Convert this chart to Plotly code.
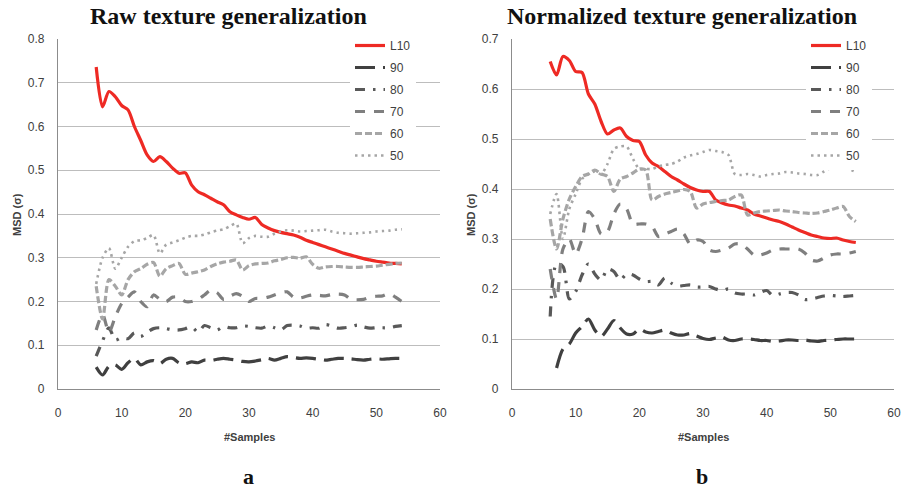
import plotly.graph_objects as go

SAMPLES = [6, 7, 8, 9, 10, 11, 12, 13, 14, 15, 16, 17, 18, 19, 20, 21, 22, 23, 24, 25,
           26, 27, 28, 29, 30, 31, 32, 33, 34, 35, 36, 37, 38, 39, 40, 41, 42, 43, 44, 45,
           46, 47, 48, 49, 50, 51, 52, 53, 54]

SERIES_NAMES = ["L10", "90", "80", "70", "60", "50"]

RAW_L10 = [0.736, 0.645, 0.68, 0.668, 0.648, 0.638, 0.60, 0.568, 0.535, 0.52, 0.531, 0.52, 0.505, 0.493, 0.494,
           0.466, 0.451, 0.444, 0.436, 0.428, 0.421, 0.405, 0.398, 0.392, 0.388, 0.392, 0.376, 0.368, 0.362, 0.358,
           0.355, 0.352, 0.347, 0.34, 0.335, 0.33, 0.325, 0.32, 0.315, 0.31, 0.306, 0.302, 0.298, 0.295, 0.292,
           0.29, 0.288, 0.287, 0.286]
RAW_90 = [0.05, 0.032, 0.052, 0.055, 0.045, 0.06, 0.07, 0.055, 0.062, 0.065,
          0.058, 0.068, 0.07, 0.06, 0.058, 0.062, 0.06, 0.066, 0.065, 0.068,
          0.07, 0.068, 0.066, 0.063, 0.062, 0.064, 0.067, 0.07, 0.066, 0.07,
          0.074, 0.072, 0.07, 0.071, 0.07, 0.068, 0.066, 0.068, 0.07, 0.07,
          0.069, 0.067, 0.066, 0.068, 0.069, 0.068, 0.069, 0.07, 0.07]
RAW_80 = [0.075, 0.11, 0.14, 0.112, 0.118, 0.115, 0.128, 0.12, 0.13, 0.138,
          0.14, 0.138, 0.135, 0.135, 0.138, 0.142, 0.13, 0.145, 0.14, 0.135,
          0.143, 0.14, 0.14, 0.144, 0.143, 0.14, 0.139, 0.144, 0.14, 0.135,
          0.145, 0.146, 0.144, 0.139, 0.14, 0.139, 0.147, 0.144, 0.139, 0.14,
          0.142, 0.146, 0.142, 0.139, 0.14, 0.14, 0.14, 0.143, 0.145]
RAW_70 = [0.135, 0.17, 0.13, 0.165, 0.195, 0.21, 0.222, 0.2, 0.188, 0.215,
          0.205, 0.2, 0.21, 0.21, 0.2, 0.2, 0.205, 0.215, 0.226, 0.22,
          0.205, 0.212, 0.218, 0.212, 0.2, 0.207, 0.207, 0.21, 0.215, 0.22,
          0.222, 0.21, 0.208, 0.212, 0.215, 0.214, 0.213, 0.216, 0.217, 0.215,
          0.205, 0.204, 0.205, 0.21, 0.212, 0.213, 0.218, 0.21, 0.2]
RAW_60 = [0.235, 0.16, 0.25, 0.235, 0.215, 0.25, 0.268, 0.275, 0.285, 0.289,
          0.258, 0.275, 0.282, 0.287, 0.262, 0.265, 0.268, 0.272, 0.28, 0.286,
          0.29, 0.292, 0.295, 0.272, 0.282, 0.286, 0.287, 0.288, 0.293, 0.296,
          0.3, 0.301, 0.299, 0.302, 0.285, 0.276, 0.279, 0.28, 0.28, 0.279,
          0.278, 0.278, 0.279, 0.28, 0.281, 0.283, 0.285, 0.287, 0.288]
RAW_50 = [0.24, 0.3, 0.322, 0.275, 0.3, 0.325, 0.338, 0.34, 0.345, 0.352,
          0.31, 0.33, 0.335, 0.34, 0.346, 0.35, 0.35, 0.353, 0.358, 0.362,
          0.365, 0.372, 0.378, 0.333, 0.345, 0.35, 0.348, 0.348, 0.355, 0.36,
          0.363, 0.362, 0.36, 0.361, 0.362, 0.363, 0.364, 0.36, 0.357, 0.356,
          0.355, 0.356, 0.357, 0.358, 0.36, 0.361, 0.362, 0.364, 0.365]

NORM_L10 = [0.655, 0.628, 0.665, 0.657, 0.635, 0.633, 0.59, 0.57, 0.535, 0.51,
            0.518, 0.522, 0.505, 0.497, 0.495, 0.468, 0.452, 0.445, 0.435, 0.425,
            0.418, 0.41, 0.403, 0.398, 0.395, 0.395, 0.378, 0.372, 0.368, 0.366,
            0.362, 0.358, 0.35, 0.346, 0.342, 0.338, 0.335, 0.33, 0.324, 0.318,
            0.313, 0.308, 0.305, 0.302, 0.301, 0.302, 0.298, 0.295, 0.293]
NORM_90 = [None, 0.042, 0.08, 0.09, 0.112, 0.125, 0.14, 0.118, 0.105, 0.12,
           0.137, 0.122, 0.11, 0.11, 0.12, 0.114, 0.112, 0.115, 0.118, 0.112,
           0.108, 0.108, 0.111, 0.106, 0.101, 0.099, 0.102, 0.104, 0.098, 0.097,
           0.1, 0.1, 0.099, 0.097, 0.097, 0.095, 0.096, 0.098, 0.098, 0.097,
           0.098, 0.096, 0.095, 0.097, 0.098, 0.099, 0.1, 0.1, 0.1]
NORM_80 = [0.145, 0.25, 0.245, 0.18, 0.195, 0.228, 0.25, 0.23, 0.218, 0.24,
           0.235, 0.218, 0.23, 0.228, 0.22, 0.215, 0.215, 0.208, 0.222, 0.212,
           0.206, 0.207, 0.208, 0.204, 0.204, 0.205, 0.2, 0.197, 0.2, 0.192,
           0.19, 0.19, 0.188, 0.193, 0.197, 0.187, 0.19, 0.193, 0.193, 0.188,
           0.179, 0.18, 0.183, 0.186, 0.187, 0.186, 0.185, 0.186, 0.187]
NORM_70 = [0.24, 0.18, 0.28, 0.3, 0.27, 0.3, 0.355, 0.34, 0.31, 0.315,
           0.35, 0.37, 0.36, 0.33, 0.33, 0.33, 0.325, 0.305, 0.31, 0.315,
           0.32, 0.31, 0.29, 0.298, 0.295, 0.278, 0.275, 0.278, 0.282, 0.29,
           0.29, 0.28, 0.268, 0.268, 0.272, 0.278, 0.28, 0.28, 0.28, 0.28,
           0.272, 0.258, 0.256, 0.262, 0.268, 0.27, 0.27, 0.272, 0.275]
NORM_60 = [0.34, 0.28, 0.34, 0.38, 0.405, 0.425, 0.43, 0.438, 0.43, 0.425,
           0.395, 0.42, 0.425, 0.432, 0.44, 0.438, 0.378, 0.385, 0.39, 0.393,
           0.396, 0.399, 0.395, 0.362, 0.37, 0.373, 0.375, 0.377, 0.378, 0.385,
           0.388, 0.348, 0.352, 0.355, 0.356, 0.357, 0.358, 0.356, 0.355, 0.353,
           0.352, 0.351, 0.352, 0.355, 0.358, 0.362, 0.365, 0.345, 0.335]
NORM_50 = [0.35, 0.39, 0.3, 0.36, 0.39, 0.42, 0.43, 0.435, 0.43, 0.45,
           0.48, 0.485, 0.485, 0.46, 0.44, 0.44, 0.44, 0.445, 0.448, 0.45,
           0.455, 0.463, 0.467, 0.47, 0.474, 0.478, 0.476, 0.474, 0.468, 0.43,
           0.428, 0.43, 0.428, 0.425, 0.428, 0.43, 0.431, 0.434, 0.433, 0.431,
           0.43, 0.428, 0.428, 0.435, 0.442, 0.447, 0.448, 0.44, 0.434]

PANEL_TITLES = ["Raw texture generalization", "Normalized texture generalization"]
PANEL_LETTERS = ["a", "b"]
X_TITLE = "#Samples"
Y_TITLE = "MSD (σ)"

STYLES = {
    "L10": dict(color="#EE2A24", width=3.2, dash="solid"),
    "90": dict(color="#404040", width=3.2, dash="20px,8px"),
    "80": dict(color="#595959", width=3.2, dash="10px,8px,2.5px,8px"),
    "70": dict(color="#7F7F7F", width=3.2, dash="10px,9px"),
    "60": dict(color="#A6A6A6", width=3.2, dash="7px,3px"),
    "50": dict(color="#A6A6A6", width=2.6, dash="2.5px,4px"),
}

W, H = 906, 490
fig = go.Figure()

panels = [
    (dict(zip(SERIES_NAMES, [RAW_L10, RAW_90, RAW_80, RAW_70, RAW_60, RAW_50])), "x", "y", "legend"),
    (dict(zip(SERIES_NAMES, [NORM_L10, NORM_90, NORM_80, NORM_70, NORM_60, NORM_50])), "x2", "y2", "legend2"),
]
for pi, (data, xa, ya, lg) in enumerate(panels):
    for name in SERIES_NAMES:
        st = STYLES[name]
        fig.add_trace(go.Scatter(
            x=SAMPLES, y=data[name], name=name, mode="lines",
            line=dict(color=st["color"], width=st["width"], dash=st["dash"],
                      shape="spline", smoothing=0.8),
            xaxis=xa, yaxis=ya, legend=lg, legendgroup=f"{lg}_{name}",
            connectgaps=False, hoverinfo="skip"))

def px_x(p):
    return p / W

def px_y(p):
    return 1 - p / H

tick_font = dict(family="Liberation Sans", size=12, color="#404040")
grid = "#BDBDBD"
axis_line = "#8C8C8C"

xcommon = dict(range=[0, 60], dtick=10, tick0=0, showgrid=False, showline=True,
               linecolor=axis_line, linewidth=1.3, ticks="", tickfont=tick_font,
               zeroline=False, fixedrange=True, ticklabelstandoff=12, automargin=False)
ycommon = dict(showgrid=True, gridcolor=grid, gridwidth=1.2, showline=True,
               linecolor=axis_line, linewidth=1.3, ticks="", tickfont=tick_font,
               zeroline=False, fixedrange=True, ticklabelstandoff=10, automargin=False)

ydom = [px_y(389), px_y(39)]
fig.update_layout(
    width=W, height=H, margin=dict(l=0, r=0, t=0, b=0, autoexpand=False),
    paper_bgcolor="white", plot_bgcolor="white",
    xaxis=dict(domain=[px_x(58), px_x(440)], anchor="y", **xcommon),
    yaxis=dict(domain=ydom, anchor="x", range=[0, 0.8], dtick=0.1, **ycommon),
    xaxis2=dict(domain=[px_x(512), px_x(894)], anchor="y2", **xcommon),
    yaxis2=dict(domain=ydom, anchor="x2", range=[0, 0.7], dtick=0.1, **ycommon),
    legend=dict(x=px_x(350), y=px_y(31), xanchor="left", yanchor="top",
                bgcolor="white", font=dict(family="Liberation Sans", size=12, color="#404040"),
                tracegroupgap=3, itemwidth=30),
    legend2=dict(x=px_x(806), y=px_y(31), xanchor="left", yanchor="top",
                 bgcolor="white", font=dict(family="Liberation Sans", size=12, color="#404040"),
                 tracegroupgap=3, itemwidth=30),
    showlegend=True,
)

ann = []
title_font = dict(family="Liberation Serif", size=24, color="#111111")
for cx, title, letter, ycx in [(228, PANEL_TITLES[0], PANEL_LETTERS[0], 17),
                               (682, PANEL_TITLES[1], PANEL_LETTERS[1], 471)]:
    ann.append(dict(text=f"<b>{title}</b>", x=px_x(cx), y=px_y(16), xref="paper", yref="paper",
                    showarrow=False, font=title_font, xanchor="center", yanchor="middle"))
    ann.append(dict(text=f"<b>{letter}</b>", x=px_x(cx + 20), y=px_y(476), xref="paper", yref="paper",
                    showarrow=False, font=dict(family="Liberation Serif", size=22, color="#111111"),
                    xanchor="center", yanchor="middle"))
    ann.append(dict(text=f"<b>{X_TITLE}</b>", x=px_x(cx + 21), y=px_y(437), xref="paper", yref="paper",
                    showarrow=False, font=dict(family="Liberation Sans", size=11, color="#404040"),
                    xanchor="center", yanchor="middle"))
    ann.append(dict(text=f"<b>{Y_TITLE}</b>", x=px_x(ycx), y=px_y(215), xref="paper", yref="paper",
                    showarrow=False, textangle=-90,
                    font=dict(family="Liberation Sans", size=11, color="#404040"),
                    xanchor="center", yanchor="middle"))
fig.update_layout(annotations=ann)

fig.write_html("out.html")
